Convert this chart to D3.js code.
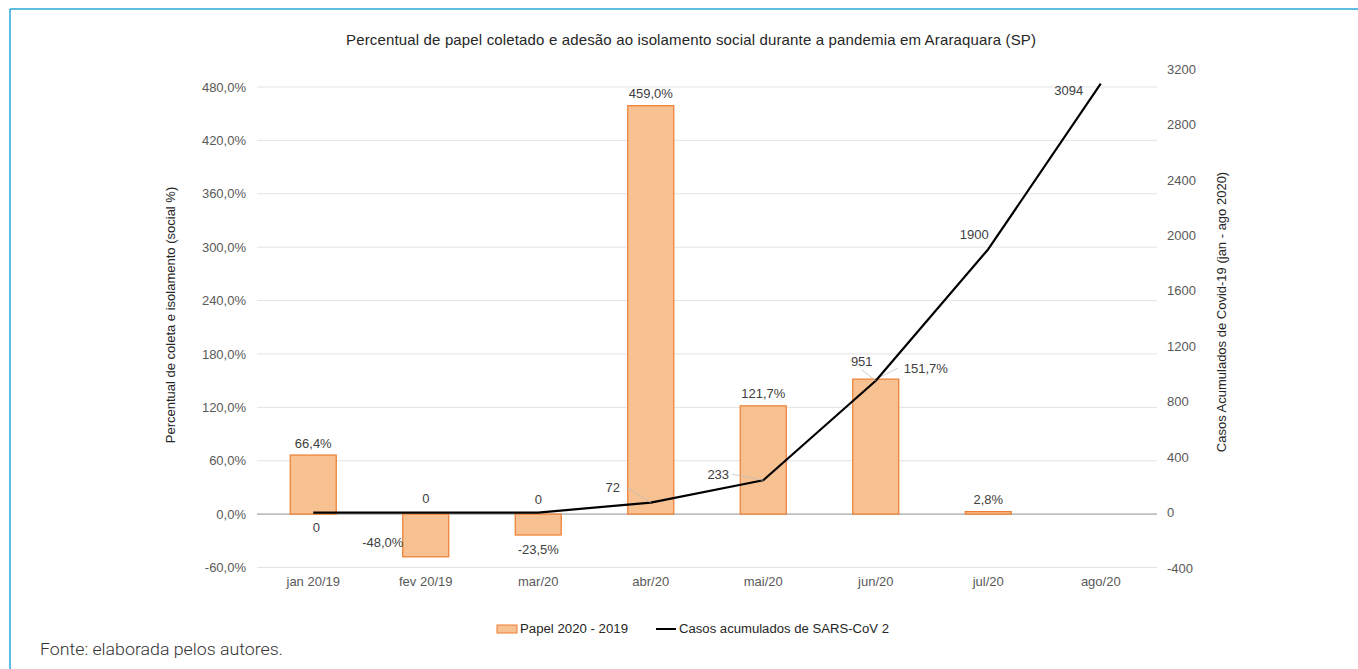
<!DOCTYPE html>
<html>
<head>
<meta charset="utf-8">
<script src="https://cdn.jsdelivr.net/npm/d3@7"></script>
<style>
  body { margin: 0; background: #fff; }
  svg { display: block; font-family: 'Liberation Sans', Arial, sans-serif; }
</style>
</head>
<body>
<div id="chart"></div>
<script>
// data
const categories = ['jan 20/19', 'fev 20/19', 'mar/20', 'abr/20', 'mai/20', 'jun/20', 'jul/20', 'ago/20'];
const papel = [66.4, -48.0, -23.5, 459.0, 121.7, 151.7, 2.8, null];
const casos = [0, 0, 0, 72, 233, 951, 1900, 3094];
const leftTicks = [-60, 0, 60, 120, 180, 240, 300, 360, 420, 480];
const rightTicks = [-400, 0, 400, 800, 1200, 1600, 2000, 2400, 2800, 3200];

// label placement (offsets from the mark, in px)
const barLabelOff = [[0, -12], [-43, -14], [0, 14], [0, -12], [0, -12], [50, -11], [0, -12], [0, 0]];
const lineLabelOff = [[3, 15], [0, -14], [0, -13], [-38, -15], [-45, -6], [-14, -19], [-14, -15], [-32, 7]];

const W = 1358, H = 669;
const svg = d3.select('#chart').append('svg').attr('width', W).attr('height', H);

const pt = v => d3.format('.1f')(v).replace('.', ',').replace('\u2212', '-') + '%';

// frame
svg.append('line').attr('x1', 10).attr('x2', W).attr('y1', 9).attr('y2', 9)
  .attr('stroke', '#2aa7da').attr('stroke-width', 1.5);
svg.append('line').attr('x1', 10).attr('x2', 10).attr('y1', 9).attr('y2', H)
  .attr('stroke', '#2aa7da').attr('stroke-width', 1.5);

const x = d3.scaleBand().domain(categories).range([257, 1157]).paddingInner(0).paddingOuter(0);
const yL = d3.scaleLinear().domain([-60, 480]).range([567.5, 87]);
const yR = d3.scaleLinear().domain([-400, 3200]).range([568, 69]);
const bw = 46;
const cx = d => x(d) + x.bandwidth() / 2;

// title
svg.append('text').attr('x', 691).attr('y', 45).attr('text-anchor', 'middle')
  .attr('font-size', 15).attr('fill', '#262626').attr('textLength', 690)
  .text('Percentual de papel coletado e adesão ao isolamento social durante a pandemia em Araraquara (SP)');

// gridlines
svg.append('g').selectAll('line').data(leftTicks).join('line')
  .attr('x1', 257).attr('x2', 1157)
  .attr('y1', d => yL(d)).attr('y2', d => yL(d))
  .attr('stroke', d => d === 0 ? '#bfbfbf' : '#e3e3e3')
  .attr('stroke-width', d => d === 0 ? 1.6 : 1);

// left axis
const axL = svg.append('g').attr('transform', 'translate(246,0)')
  .call(d3.axisLeft(yL).tickValues(leftTicks).tickSize(0).tickPadding(0).tickFormat(pt));
axL.select('.domain').remove();
axL.selectAll('text').attr('font-size', 13).attr('fill', '#595959').attr('font-family', null);

// right axis
const axR = svg.append('g').attr('transform', 'translate(1167,0)')
  .call(d3.axisRight(yR).tickValues(rightTicks).tickSize(0).tickPadding(0).tickFormat(d => String(d)));
axR.select('.domain').remove();
axR.selectAll('text').attr('font-size', 13).attr('fill', '#595959').attr('font-family', null);

// x axis labels
const axX = svg.append('g').attr('transform', 'translate(0,577)')
  .call(d3.axisBottom(x).tickSize(0).tickPadding(0));
axX.select('.domain').remove();
axX.selectAll('text').attr('font-size', 13).attr('fill', '#595959').attr('font-family', null);

// axis titles
svg.append('text').attr('transform', 'translate(175,315) rotate(-90)')
  .attr('text-anchor', 'middle').attr('font-size', 13).attr('fill', '#262626')
  .text('Percentual de coleta e isolamento (social %)');
svg.append('text').attr('transform', 'translate(1226,312) rotate(-90)')
  .attr('text-anchor', 'middle').attr('font-size', 13).attr('fill', '#262626')
  .text('Casos Acumulados de Covid-19 (jan - ago 2020)');

// bars
const barData = categories.map((c, i) => ({ c, v: papel[i], i })).filter(d => d.v !== null);
svg.append('g').selectAll('rect').data(barData).join('rect')
  .attr('x', d => cx(d.c) - bw / 2)
  .attr('width', bw)
  .attr('y', d => Math.min(yL(d.v), yL(0)))
  .attr('height', d => Math.abs(yL(d.v) - yL(0)))
  .attr('fill', '#f8c191').attr('stroke', '#ed7d31').attr('stroke-width', 1.2);

// bar labels
svg.append('g').selectAll('text').data(barData).join('text')
  .attr('x', d => cx(d.c) + barLabelOff[d.i][0])
  .attr('y', d => yL(d.v) + barLabelOff[d.i][1])
  .attr('dy', '0.35em').attr('text-anchor', 'middle')
  .attr('font-size', 13).attr('fill', '#404040')
  .text(d => pt(d.v));

// leader for 151,7%
svg.append('line').attr('x1', cx('jun/20')).attr('y1', yL(151.7))
  .attr('x2', cx('jun/20') + 22).attr('y2', yL(151.7) - 11)
  .attr('stroke', '#bfbfbf').attr('stroke-width', 0.8);

// line
const lineData = categories.map((c, i) => ({ c, v: casos[i], i }));
svg.append('path').datum(lineData)
  .attr('d', d3.line().x(d => cx(d.c)).y(d => yR(d.v)))
  .attr('fill', 'none').attr('stroke', '#000').attr('stroke-width', 2.2)
  .attr('stroke-linejoin', 'round');

// leaders for line labels
[3, 4, 5].forEach(i => {
  const px = cx(categories[i]), py = yR(casos[i]);
  const lx = px + lineLabelOff[i][0] + (i === 5 ? 0 : 14), ly = py + lineLabelOff[i][1] + (i === 5 ? 8 : 0);
  svg.append('line').attr('x1', lx).attr('y1', ly).attr('x2', px).attr('y2', py)
    .attr('stroke', '#bfbfbf').attr('stroke-width', 0.8);
});

// line labels
svg.append('g').selectAll('text').data(lineData).join('text')
  .attr('x', d => cx(d.c) + lineLabelOff[d.i][0])
  .attr('y', d => yR(d.v) + lineLabelOff[d.i][1])
  .attr('dy', '0.35em').attr('text-anchor', 'middle')
  .attr('font-size', 13).attr('fill', '#404040')
  .text(d => d.v);

// legend
const lg = svg.append('g').attr('transform', 'translate(0,629)');
lg.append('rect').attr('x', 497).attr('y', -4).attr('width', 20).attr('height', 8)
  .attr('fill', '#f8c191').attr('stroke', '#ed7d31');
lg.append('text').attr('x', 520).attr('y', 0).attr('dy', '0.35em')
  .attr('font-size', 12).attr('fill', '#262626').attr('textLength', 108)
  .attr('lengthAdjust', 'spacingAndGlyphs')
  .text('Papel 2020 - 2019');
lg.append('line').attr('x1', 656).attr('x2', 676).attr('y1', 0).attr('y2', 0)
  .attr('stroke', '#000').attr('stroke-width', 2);
lg.append('text').attr('x', 679).attr('y', 0).attr('dy', '0.35em')
  .attr('font-size', 12).attr('fill', '#262626').attr('textLength', 210)
  .attr('lengthAdjust', 'spacingAndGlyphs')
  .text('Casos acumulados de SARS-CoV 2');

// source
svg.append('text').attr('x', 40).attr('y', 655)
  .attr('font-family', 'Roboto').attr('font-weight', 300).attr('font-size', 17).attr('fill', '#333')
  .attr('textLength', 243).attr('lengthAdjust', 'spacingAndGlyphs')
  .text('Fonte: elaborada pelos autores.');
</script>
</body>
</html>
